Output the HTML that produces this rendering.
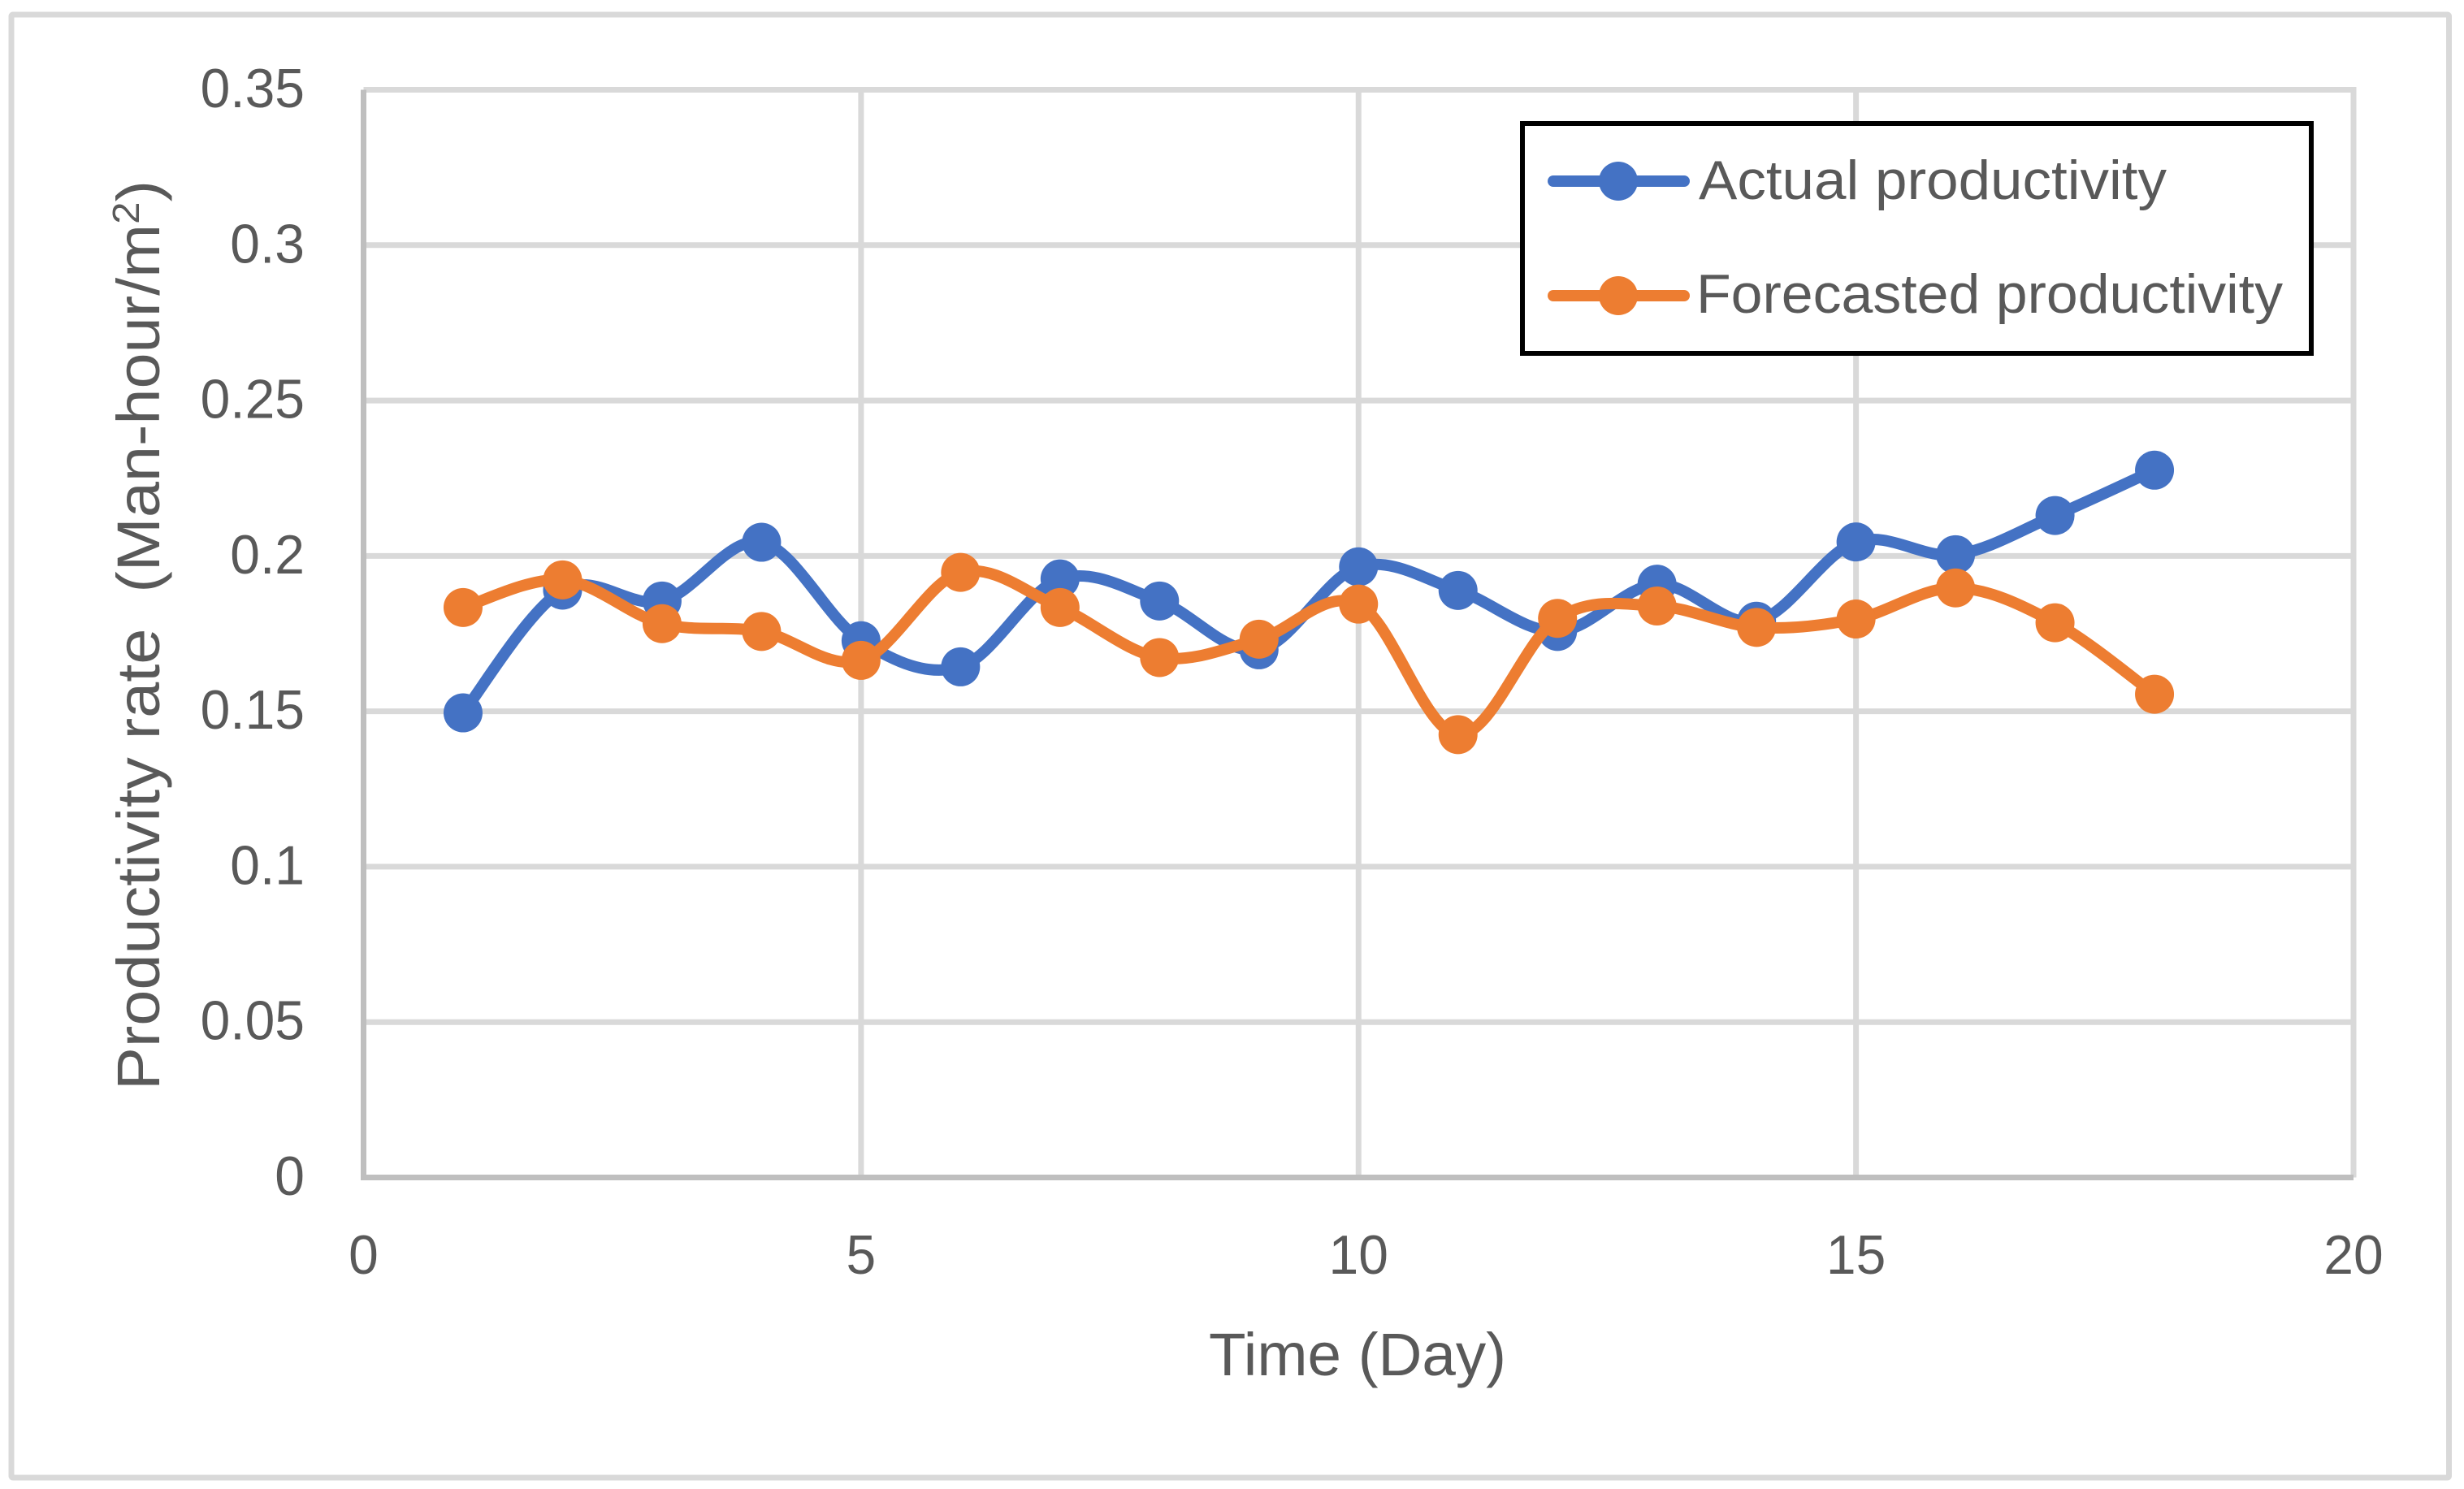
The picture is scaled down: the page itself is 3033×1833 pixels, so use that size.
<!DOCTYPE html>
<html lang="en">
<head>
<meta charset="utf-8">
<title>Actual vs forecasted productivity</title>
<style>
html,body{margin:0;padding:0;background:#fff;width:3033px;height:1833px;overflow:hidden}
svg{display:block}
text{font-family:"Liberation Sans",sans-serif;fill:#595959}
</style>
</head>
<body>
<svg id="chart" xmlns="http://www.w3.org/2000/svg" width="3033" height="1833" viewBox="0 0 3033 1833">
  <rect x="14" y="18" width="3000.5" height="1801" rx="2" fill="#fff" stroke="#d9d9d9" stroke-width="7"/>
  <g id="grid"></g>
  <g id="axes"></g>
  <g id="series"></g>
  <text x="196" y="1342" font-size="74" transform="rotate(-90 196 1342)" textLength="1120" lengthAdjust="spacingAndGlyphs" xml:space="preserve">Productivity rate  (Man-hour/m<tspan font-size="46" dy="-25">2</tspan><tspan dy="25">)</tspan></text>
  <text x="1488" y="1693" font-size="74" textLength="366" lengthAdjust="spacingAndGlyphs">Time (Day)</text>
  <g>
    <rect x="1874" y="152" width="971" height="283" fill="#fff" stroke="#000" stroke-width="6"/>
    <g>
      <line x1="1912" y1="223" x2="2073" y2="223" stroke="#4472c4" stroke-width="14" stroke-linecap="round"/>
      <circle cx="1992" cy="223" r="24" fill="#4472c4"/>
      <text x="2091" y="245" font-size="68" textLength="576" lengthAdjust="spacingAndGlyphs">Actual productivity</text>
    </g>
    <g>
      <line x1="1912" y1="364" x2="2073" y2="364" stroke="#ed7d31" stroke-width="14" stroke-linecap="round"/>
      <circle cx="1992" cy="364" r="24" fill="#ed7d31"/>
      <text x="2088" y="385" font-size="68" textLength="722" lengthAdjust="spacingAndGlyphs">Forecasted productivity</text>
    </g>
  </g>
</svg>
<script>
const days = [1,2,3,4,5,6,7,8,9,10,11,12,13,14,15,16,17,18];
const actualProductivity = [0.1495,0.189,0.1855,0.2044,0.1727,0.1643,0.1926,0.1855,0.1698,0.1965,0.1889,0.1757,0.1909,0.179,0.2045,0.2004,0.213,0.2276];
const forecastedProductivity = [0.1834,0.1923,0.1782,0.1757,0.1664,0.1947,0.1834,0.1673,0.1732,0.1845,0.1425,0.1799,0.1839,0.177,0.1797,0.1897,0.1785,0.1555];
const xTickValues = [0,5,10,15,20];
const xTickLabels = ["0","5","10","15","20"];
const yTickValues = [0,0.05,0.1,0.15,0.2,0.25,0.3,0.35];
const yTickLabels = ["0","0.05","0.1","0.15","0.2","0.25","0.3","0.35"];

const NS = "http://www.w3.org/2000/svg";
const PLOT = {left:447.5, right:2897, top:110.5, bottom:1449.5};
const X_MAX = 20, Y_MAX = 0.35;
function xScale(v){ return PLOT.left + (v / X_MAX) * (PLOT.right - PLOT.left); }
function yScale(v){ return PLOT.bottom - (v / Y_MAX) * (PLOT.bottom - PLOT.top); }

function make(parent, tag, attrs){
  const el = document.createElementNS(NS, tag);
  for (const k in attrs) el.setAttribute(k, attrs[k]);
  parent.appendChild(el);
  return el;
}
function smoothPath(xs, ys){
  const pts = xs.map(function(x,i){ return [xScale(x), yScale(ys[i])]; });
  let d = "M" + pts[0][0] + " " + pts[0][1];
  for (let i = 0; i < pts.length - 1; i++){
    const p0 = pts[Math.max(i-1,0)], p1 = pts[i], p2 = pts[i+1], p3 = pts[Math.min(i+2,pts.length-1)];
    const c1x = p1[0] + (p2[0]-p0[0])/6, c1y = p1[1] + (p2[1]-p0[1])/6;
    const c2x = p2[0] - (p3[0]-p1[0])/6, c2y = p2[1] - (p3[1]-p1[1])/6;
    d += " C" + c1x + " " + c1y + " " + c2x + " " + c2y + " " + p2[0] + " " + p2[1];
  }
  return d;
}

const gridG = document.getElementById("grid");
const axesG = document.getElementById("axes");
const seriesG = document.getElementById("series");

yTickValues.forEach(function(v, i){
  if (v !== 0){
    const ln = make(gridG, "line", {x1:PLOT.left, x2:PLOT.right+3.5, y1:yScale(v), y2:yScale(v), stroke:"#d9d9d9", "stroke-width":7});
    
    
  }
  const t = make(axesG, "text", {x:375, y:yScale(v)+21.5, "text-anchor":"end", "font-size":68});
  t.textContent = yTickLabels[i];
  
  
});
xTickValues.forEach(function(v, i){
  if (v !== 0){
    const ln = make(gridG, "line", {x1:xScale(v), x2:xScale(v), y1:PLOT.top-3.5, y2:PLOT.bottom, stroke:"#d9d9d9", "stroke-width":7});
    
    
  }
  const t = make(axesG, "text", {x:xScale(v), y:1568, "text-anchor":"middle", "font-size":68});
  t.textContent = xTickLabels[i];
  
  
});
const yAxis = make(axesG, "line", {x1:PLOT.left, x2:PLOT.left, y1:PLOT.top, y2:PLOT.bottom+3.5, stroke:"#bfbfbf", "stroke-width":7});


const xAxis = make(axesG, "line", {x1:PLOT.left, x2:PLOT.right, y1:PLOT.bottom, y2:PLOT.bottom, stroke:"#bfbfbf", "stroke-width":7});



Array.prototype.forEach.call(axesG.querySelectorAll("text"), function(t){
  const w = t.getComputedTextLength();
  t.setAttribute("textLength", (w * 0.97).toFixed(1));
  t.setAttribute("lengthAdjust", "spacingAndGlyphs");
});

function drawSeries(values, color, label){
  const g = make(seriesG, "g", {});
  
  
  const path = make(g, "path", {d:smoothPath(days, values), fill:"none", stroke:color, "stroke-width":14, "stroke-linecap":"round", "stroke-linejoin":"round"});
  
  
  values.forEach(function(v, i){
    const c = make(g, "circle", {cx:xScale(days[i]), cy:yScale(v), r:24, fill:color});
    
    
  });
}
drawSeries(actualProductivity, "#4472c4", "actual");
drawSeries(forecastedProductivity, "#ed7d31", "forecasted");
</script>
</body>
</html>
